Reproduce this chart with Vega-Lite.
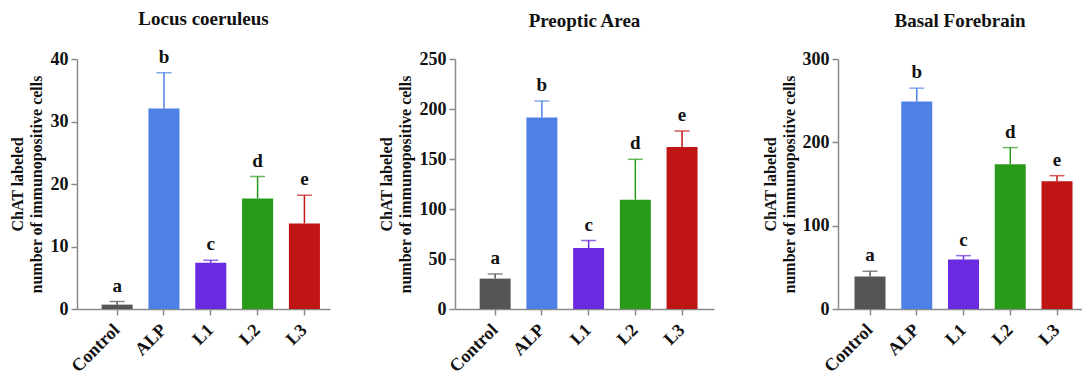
{
  "$schema": "https://vega.github.io/schema/vega-lite/v6.json",
  "padding": {"left": 9, "top": 9, "right": 0, "bottom": 0},
  "background": "white",
  "spacing": 48,
  "config": {
    "view": {"stroke": null},
    "font": "Liberation Serif",
    "title": {"font": "Liberation Serif", "fontSize": 19, "fontWeight": "bold", "color": "#111", "anchor": "middle", "frame": "group"},
    "axis": {
      "labelFont": "Liberation Serif", "labelFontSize": 18, "labelFontWeight": "bold", "labelColor": "#111",
      "titleFont": "Liberation Serif", "titleFontSize": 16, "titleFontWeight": "bold", "titleColor": "#111",
      "domainColor": "#8a8a8a", "tickColor": "#8a8a8a", "domainWidth": 1.5, "tickWidth": 1.5, "grid": false, "tickSize": 6, "labelPadding": 3
    }
  },
  "datasets": {
    "cells": [
      {"region": "LC", "group": "Control", "mean": 0.7, "err": 1.2, "sig": "a"},
      {"region": "LC", "group": "ALP", "mean": 32.1, "err": 37.8, "sig": "b"},
      {"region": "LC", "group": "L1", "mean": 7.4, "err": 7.8, "sig": "c"},
      {"region": "LC", "group": "L2", "mean": 17.7, "err": 21.2, "sig": "d"},
      {"region": "LC", "group": "L3", "mean": 13.7, "err": 18.2, "sig": "e"},
      {"region": "POA", "group": "Control", "mean": 30.4, "err": 35, "sig": "a"},
      {"region": "POA", "group": "ALP", "mean": 191.5, "err": 208, "sig": "b"},
      {"region": "POA", "group": "L1", "mean": 61, "err": 68.5, "sig": "c"},
      {"region": "POA", "group": "L2", "mean": 109.3, "err": 149.7, "sig": "d"},
      {"region": "POA", "group": "L3", "mean": 162, "err": 178, "sig": "e"},
      {"region": "BF", "group": "Control", "mean": 38.9, "err": 45.3, "sig": "a"},
      {"region": "BF", "group": "ALP", "mean": 249, "err": 265, "sig": "b"},
      {"region": "BF", "group": "L1", "mean": 59.4, "err": 64, "sig": "c"},
      {"region": "BF", "group": "L2", "mean": 173.7, "err": 193.7, "sig": "d"},
      {"region": "BF", "group": "L3", "mean": 153.2, "err": 160, "sig": "e"}
    ]
  },
  "hconcat": [
    {
      "width": 253, "height": 250,
      "title": {"text": "Locus coeruleus", "offset": 19},
      "data": {"name": "cells"},
      "transform": [{"filter": "datum.region === 'LC'"}],
      "encoding": {
        "x": {"field": "group", "type": "nominal", "sort": ["Control", "ALP", "L1", "L2", "L3"], "title": null,
              "scale": {"paddingInner": 0.337, "paddingOuter": 0.37, "align": 0.71},
              "axis": {"labelAngle": -45, "labelAlign": "right", "labelBaseline": "middle", "labelPadding": 12}},
        "color": {"field": "group", "type": "nominal", "legend": null,
                  "scale": {"domain": ["Control", "ALP", "L1", "L2", "L3"], "range": ["#555555", "#4f80e6", "#6a2ae0", "#289a1a", "#c01515"]}}
      },
      "layer": [
        {"mark": {"type": "rule", "strokeWidth": 1.5},
         "encoding": {"y": {"field": "mean", "type": "quantitative"}, "y2": {"field": "err"}}},
        {"mark": {"type": "bar", "opacity": 1},
         "encoding": {"y": {"field": "mean", "type": "quantitative", "scale": {"domain": [0, 40], "nice": false},
                           "axis": {"values": [0, 10, 20, 30, 40], "title": ["ChAT labeled", "number of immunopositive cells"], "titleLineHeight": 19, "titlePadding": 6}}}},
        {"mark": {"type": "tick", "size": 15, "thickness": 1.5},
         "encoding": {"y": {"field": "err", "type": "quantitative"}}},
        {"mark": {"type": "text", "baseline": "bottom", "dy": -6, "fontSize": 19, "fontWeight": "bold", "font": "Liberation Serif"},
         "encoding": {"y": {"field": "err", "type": "quantitative"}, "text": {"field": "sig"}, "color": {"value": "#111"}}}
      ]
    },
    {
      "width": 259, "height": 250,
      "title": {"text": "Preoptic Area", "offset": 19},
      "data": {"name": "cells"},
      "transform": [{"filter": "datum.region === 'POA'"}],
      "encoding": {
        "x": {"field": "group", "type": "nominal", "sort": ["Control", "ALP", "L1", "L2", "L3"], "title": null,
              "scale": {"paddingInner": 0.337, "paddingOuter": 0.44, "align": 0.6},
              "axis": {"labelAngle": -45, "labelAlign": "right", "labelBaseline": "middle", "labelPadding": 12}},
        "color": {"field": "group", "type": "nominal", "legend": null,
                  "scale": {"domain": ["Control", "ALP", "L1", "L2", "L3"], "range": ["#555555", "#4f80e6", "#6a2ae0", "#289a1a", "#c01515"]}}
      },
      "layer": [
        {"mark": {"type": "rule", "strokeWidth": 1.5},
         "encoding": {"y": {"field": "mean", "type": "quantitative"}, "y2": {"field": "err"}}},
        {"mark": {"type": "bar", "opacity": 1},
         "encoding": {"y": {"field": "mean", "type": "quantitative", "scale": {"domain": [0, 250], "nice": false},
                           "axis": {"values": [0, 50, 100, 150, 200, 250], "title": ["ChAT labeled", "number of immunopositive cells"], "titleLineHeight": 19, "titlePadding": 6}}}},
        {"mark": {"type": "tick", "size": 15, "thickness": 1.5},
         "encoding": {"y": {"field": "err", "type": "quantitative"}}},
        {"mark": {"type": "text", "baseline": "bottom", "dy": -6, "fontSize": 19, "fontWeight": "bold", "font": "Liberation Serif"},
         "encoding": {"y": {"field": "err", "type": "quantitative"}, "text": {"field": "sig"}, "color": {"value": "#111"}}}
      ]
    },
    {
      "width": 244, "height": 250,
      "title": {"text": "Basal Forebrain", "offset": 19},
      "data": {"name": "cells"},
      "transform": [{"filter": "datum.region === 'BF'"}],
      "encoding": {
        "x": {"field": "group", "type": "nominal", "sort": ["Control", "ALP", "L1", "L2", "L3"], "title": null,
              "scale": {"paddingInner": 0.337, "paddingOuter": 0.278, "align": 0.635},
              "axis": {"labelAngle": -45, "labelAlign": "right", "labelBaseline": "middle", "labelPadding": 12}},
        "color": {"field": "group", "type": "nominal", "legend": null,
                  "scale": {"domain": ["Control", "ALP", "L1", "L2", "L3"], "range": ["#555555", "#4f80e6", "#6a2ae0", "#289a1a", "#c01515"]}}
      },
      "layer": [
        {"mark": {"type": "rule", "strokeWidth": 1.5},
         "encoding": {"y": {"field": "mean", "type": "quantitative"}, "y2": {"field": "err"}}},
        {"mark": {"type": "bar", "opacity": 1},
         "encoding": {"y": {"field": "mean", "type": "quantitative", "scale": {"domain": [0, 300], "nice": false},
                           "axis": {"values": [0, 100, 200, 300], "title": ["ChAT labeled", "number of immunopositive cells"], "titleLineHeight": 19, "titlePadding": 5}}}},
        {"mark": {"type": "tick", "size": 15, "thickness": 1.5},
         "encoding": {"y": {"field": "err", "type": "quantitative"}}},
        {"mark": {"type": "text", "baseline": "bottom", "dy": -6, "fontSize": 19, "fontWeight": "bold", "font": "Liberation Serif"},
         "encoding": {"y": {"field": "err", "type": "quantitative"}, "text": {"field": "sig"}, "color": {"value": "#111"}}}
      ]
    }
  ]
}
